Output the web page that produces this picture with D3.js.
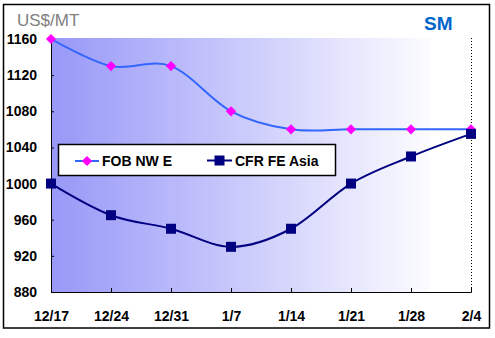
<!DOCTYPE html>
<html><head><meta charset="utf-8">
<script src="https://cdn.jsdelivr.net/npm/d3@7"></script>
<style>body{margin:0;background:#fff}svg{display:block}</style>
</head><body>
<script>
const categories = ["12/17","12/24","12/31","1/7","1/14","1/21","1/28","2/4"];
const fobNWE = [1160,1130,1130,1080,1060,1060,1060,1060];
const cfrFEAsia = [1000,965,950,930,950,1000,1030,1055];
const yTicks = [880,920,960,1000,1040,1080,1120,1160];
const seriesNames = ["FOB NW E","CFR FE Asia"];

const W=495,H=338;
const svg=d3.select("body").append("svg").attr("width",W).attr("height",H);
const font="Arial, 'Liberation Sans', sans-serif";

svg.append("rect").attr("x",3.5).attr("y",4.5).attr("width",486).attr("height",323.5)
  .attr("fill","#fff").attr("stroke","#000").attr("stroke-width",1.5);

const x=d3.scalePoint().domain(categories).range([51,471]);
const y=d3.scaleLinear().domain([880,1160]).range([292,39]);

const defs=svg.append("defs");
const g=defs.append("linearGradient").attr("id","bg").attr("x1","0").attr("x2","1").attr("y1","0").attr("y2","0");
g.append("stop").attr("offset","0").attr("stop-color","#9898F8");
g.append("stop").attr("offset","1").attr("stop-color","#FCFCFF");

svg.append("rect").attr("x",x(categories[0])).attr("y",y(1160)-1)
  .attr("width",430-x(categories[0])).attr("height",y(880)-y(1160)+1).attr("fill","url(#bg)");

// dotted right line
svg.append("line").attr("x1",x(categories[7])+0.5).attr("x2",x(categories[7])+0.5)
  .attr("y1",y(1160)-1).attr("y2",y(880)).attr("stroke","#000").attr("stroke-dasharray","1,2");

// axes
const yAxis=d3.axisLeft(y).tickValues(yTicks).tickFormat(d3.format("d")).tickSize(-3).tickPadding(14);
const ya=svg.append("g").attr("transform",`translate(${x(categories[0])},0)`).call(yAxis);
ya.select(".domain").attr("stroke","#000");
ya.selectAll("text").attr("font-family",font).attr("font-weight","bold").attr("font-size","14px").attr("fill","#000");

const xAxis=d3.axisBottom(x).tickSize(-4).tickPadding(19);
const xa=svg.append("g").attr("transform",`translate(0,${y(880)})`).call(xAxis);
xa.select(".domain").attr("stroke","#000");
xa.selectAll("text").attr("font-family",font).attr("font-weight","bold").attr("font-size","14px").attr("fill","#000");
xa.selectAll(".tick line").filter((d,i)=>i===0||i===7).remove();

const line=d3.line().x((d,i)=>x(categories[i])).y(d=>y(d)).curve(d3.curveCardinal.tension(0));

svg.append("path").datum(fobNWE).attr("d",line).attr("fill","none").attr("stroke","#3366FF").attr("stroke-width",2);
svg.append("path").datum(cfrFEAsia).attr("d",line).attr("fill","none").attr("stroke","#000080").attr("stroke-width",2);

svg.selectAll(".fobm").data(fobNWE).enter().append("path")
  .attr("d",d3.symbol().type(d3.symbolSquare).size(52)).attr("transform",(d,i)=>`translate(${x(categories[i])},${y(d)}) rotate(45)`)
  .attr("fill","#FF00FF");
svg.selectAll(".cfrm").data(cfrFEAsia).enter().append("rect")
  .attr("x",(d,i)=>x(categories[i])-5).attr("y",d=>y(d)-5).attr("width",10).attr("height",10).attr("fill","#000080");

// legend
svg.append("rect").attr("x",58.5).attr("y",144.5).attr("width",277).attr("height",31)
  .attr("fill","#fff").attr("stroke","#000").attr("stroke-width",1.5);
svg.append("line").attr("x1",75).attr("x2",99).attr("y1",161).attr("y2",161).attr("stroke","#3366FF").attr("stroke-width",2);
svg.append("path").attr("d",d3.symbol().type(d3.symbolSquare).size(52)).attr("transform","translate(87,161) rotate(45)").attr("fill","#FF00FF");
svg.append("text").attr("x",102).attr("y",166).text(seriesNames[0])
  .attr("font-family",font).attr("font-weight","bold").attr("font-size","14px");
svg.append("line").attr("x1",207).attr("x2",232).attr("y1",160.5).attr("y2",160.5).attr("stroke","#000080").attr("stroke-width",2);
svg.append("rect").attr("x",214.5).attr("y",155.5).attr("width",10).attr("height",10).attr("fill","#000080");
svg.append("text").attr("x",235).attr("y",166).text(seriesNames[1])
  .attr("font-family",font).attr("font-weight","bold").attr("font-size","14px");

// titles
svg.append("text").attr("x",17).attr("y",26).text("US$/MT")
  .attr("font-family",font).attr("font-size","17px").attr("fill","#808080");
svg.append("text").attr("x",424).attr("y",30).text("SM")
  .attr("font-family",font).attr("font-weight","bold").attr("font-size","19px").attr("fill","#0066CC");
</script>
</body></html>
